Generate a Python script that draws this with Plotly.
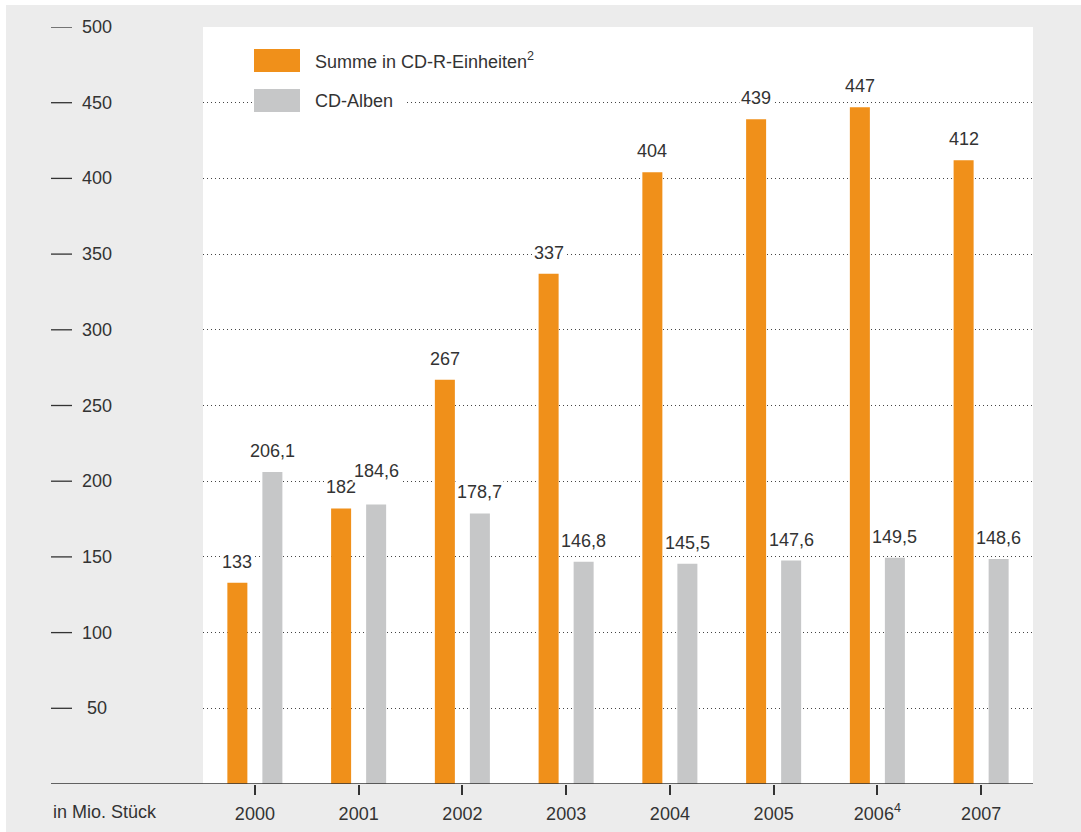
import plotly.graph_objects as go

# Absatz in Mio. Stück
years = ["2000", "2001", "2002", "2003", "2004", "2005", "2006", "2007"]
year_labels = ["2000", "2001", "2002", "2003", "2004", "2005", "2006<sup>4</sup>", "2007"]
cdr_units = [133, 182, 267, 337, 404, 439, 447, 412]
cd_albums = [206.1, 184.6, 178.7, 146.8, 145.5, 147.6, 149.5, 148.6]
y_ticks = [50, 100, 150, 200, 250, 300, 350, 400, 450, 500]

series_names = ["Summe in CD-R-Einheiten<sup>2</sup>", "CD-Alben"]

ORANGE = "#F0901A"
GREY = "#C6C7C8"
TEXT = "#333333"
BG = "#ECECEC"
FONT = "Liberation Sans, Arial, sans-serif"
FS = 18

W, H = 1081, 832
L, R, T, B = 203, 48, 27, 48
PW, PH = W - L - R, H - T - B


def px_x(px):
    return (px - L) / PW


def px_y(py):
    return (H - B - py) / PH


def de(v):
    return f"{v:.1f}".replace(".", ",") if isinstance(v, float) else str(v)


fig = go.Figure()
fig.add_trace(go.Bar(x=years, y=cdr_units, name=series_names[0],
                     marker=dict(color=ORANGE, line=dict(width=0))))
fig.add_trace(go.Bar(x=years, y=cd_albums, name=series_names[1],
                     marker=dict(color=GREY, line=dict(width=0))))

shapes = []
annotations = []

# thin white frame at top and left of the grey page
shapes.append(dict(type="rect", xref="paper", yref="paper",
                   x0=px_x(0), x1=px_x(W), y0=px_y(5), y1=px_y(0),
                   fillcolor="white", line=dict(width=0), layer="above"))
shapes.append(dict(type="rect", xref="paper", yref="paper",
                   x0=px_x(0), x1=px_x(6), y0=px_y(H), y1=px_y(0),
                   fillcolor="white", line=dict(width=0), layer="above"))

# baseline running out under the value axis
shapes.append(dict(type="line", xref="paper", yref="y",
                   x0=px_x(51), x1=1, y0=0, y1=0,
                   line=dict(color=TEXT, width=1.5), layer="above"))

# value axis: dash marks with centred numbers
for v in y_ticks:
    shapes.append(dict(type="line", xref="paper", yref="y",
                       x0=px_x(51), x1=px_x(72), y0=v, y1=v,
                       line=dict(color=TEXT, width=1.3)))
    annotations.append(dict(xref="paper", yref="y", x=px_x(96.5), y=v,
                            text=str(v), showarrow=False, xanchor="center",
                            yanchor="middle", font=dict(size=FS, color=TEXT, family=FONT)))

annotations.append(dict(xref="paper", yref="paper", x=px_x(51), y=px_y(812),
                        text="in Mio. Stück", showarrow=False, xanchor="left",
                        yanchor="middle", font=dict(size=FS, color=TEXT, family=FONT)))

# value labels above each bar (category axis positions are serial numbers)
extra_lift = {("CD-Alben", "2001"): 13}
for name, vals, dx in ((series_names[0], cdr_units, -17.5), (series_names[1], cd_albums, 17.5)):
    for i, (yr, v) in enumerate(zip(years, vals)):
        annotations.append(dict(x=i, y=v, xref="x", yref="y", text=de(v),
                                showarrow=False, xanchor="center", yanchor="bottom",
                                xshift=dx, yshift=9 + extra_lift.get((name, yr), 0),
                                bgcolor="white", borderpad=1,
                                font=dict(size=FS, color=TEXT, family=FONT)))

# legend: swatches and labels
shapes.append(dict(type="rect", xref="paper", yref="paper",
                   x0=px_x(254), x1=px_x(404), y0=px_y(110), y1=px_y(96),
                   fillcolor="white", line=dict(width=0), layer="above"))
for (name, color), (top, bottom) in zip(((series_names[0], ORANGE), (series_names[1], GREY)),
                                         ((49, 72), (89, 112))):
    shapes.append(dict(type="rect", xref="paper", yref="paper",
                       x0=px_x(254), x1=px_x(300), y0=px_y(bottom), y1=px_y(top),
                       fillcolor=color, line=dict(width=0), layer="above"))
    annotations.append(dict(xref="paper", yref="paper", x=px_x(313),
                            y=px_y((top + bottom) / 2), text=name, showarrow=False,
                            xanchor="left", yanchor="middle",
                            font=dict(size=FS, color=TEXT, family=FONT)))

fig.update_layout(
    width=W, height=H,
    margin=dict(l=L, r=R, t=T, b=B, autoexpand=False),
    paper_bgcolor=BG, plot_bgcolor="white",
    barmode="group", bargap=0.325, bargroupgap=0.4286,
    showlegend=False,
    font=dict(family=FONT, size=FS, color=TEXT),
    shapes=shapes, annotations=annotations,
    xaxis=dict(type="category", range=[-0.5, 7.5], tickmode="array",
               tickvals=years, ticktext=year_labels, ticks="outside",
               ticklen=10, tickwidth=1.5, tickcolor=TEXT, showgrid=False,
               showline=False, zeroline=False, ticklabelstandoff=3,
               automargin=False,
               tickfont=dict(size=FS, color=TEXT, family=FONT)),
    yaxis=dict(range=[0, 500], tickmode="array", tickvals=y_ticks,
               showticklabels=False, ticks="", showgrid=True, automargin=False,
               gridcolor="#444444", gridwidth=1, griddash="1px,3px",
               zeroline=False, showline=False),
)

fig.write_html("out.html")
